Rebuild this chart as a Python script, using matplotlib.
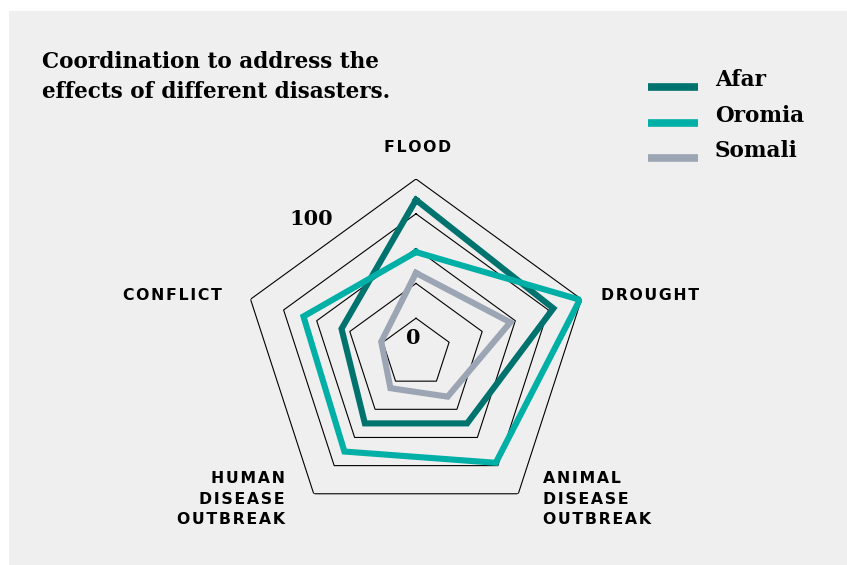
import numpy as np
import matplotlib
matplotlib.use("Agg")
from matplotlib import pyplot as plt
from matplotlib.patches import Rectangle
from matplotlib.lines import Line2D

# Survey scores per disaster type (0-100)
categories = ["FLOOD", "DROUGHT", "ANIMAL DISEASE OUTBREAK", "HUMAN DISEASE OUTBREAK", "CONFLICT"]
afar = [88, 83, 50, 50, 45]
oromia = [58, 99, 78, 70, 68]
somali = [46, 57, 31, 25, 21]
regions = ["Afar", "Oromia", "Somali"]
colors = ["#00736e", "#00b0a6", "#9ba5b4"]
ring_levels = [20, 40, 60, 80, 100]

W, H = 847, 565
fig = plt.figure(figsize=(W / 100, H / 100), dpi=100)
fig.patch.set_facecolor("white")

# grey panel behind everything
fig.add_artist(Rectangle((9 / W, 0), 1, 1 - 11 / H, transform=fig.transFigure,
                         facecolor="#efefef", edgecolor="none", zorder=0))

# polar axes centred on the chart
cx, cy, R = 416, 353, 174
ax = fig.add_axes([(cx - R) / W, 1 - (cy + R) / H, 2 * R / W, 2 * R / H], projection="polar")
ax.set_facecolor("none")
ax.set_theta_offset(np.pi / 2)
ax.set_theta_direction(-1)
ax.set_ylim(0, 100)
ax.grid(False)
ax.spines["polar"].set_visible(False)
ax.set_xticks([])
ax.set_yticks([])

n = len(categories)
angles = np.linspace(0, 2 * np.pi, n, endpoint=False)
closed = np.append(angles, angles[0])

for lvl in ring_levels:
    ax.plot(closed, [lvl] * (n + 1), color="black", lw=0.8, zorder=1)

for vals, col in zip([afar, oromia, somali], colors):
    v = vals + vals[:1]
    ax.plot(closed, v, color=col, lw=4.4, solid_joinstyle="miter", zorder=3)

# scale labels
serif = "DejaVu Serif"
fig.text(413 / W, 1 - 338 / H, "0", ha="center", va="center", fontsize=15,
         fontweight="bold", family=serif)
fig.text(311 / W, 1 - 219 / H, "100", ha="center", va="center", fontsize=15,
         fontweight="bold", family=serif)


def spaced(s):
    # widen the tracking a little with hair spaces
    return "\n".join("\u200a".join(line) for line in s.split("\n"))


# category labels
lab = dict(fontsize=11.3, fontweight="bold", family="DejaVu Sans", color="black")
fig.text(418 / W, 1 - 147 / H, spaced("FLOOD"), ha="center", va="center", **lab)
fig.text(601 / W, 1 - 296 / H, spaced("DROUGHT"), ha="left", va="center", **lab)
fig.text(222 / W, 1 - 296 / H, spaced("CONFLICT"), ha="right", va="center", **lab)
fig.text(285 / W, 1 - 499 / H, spaced("HUMAN\nDISEASE\nOUTBREAK"), ha="right", va="center",
         linespacing=1.45, multialignment="right", **lab)
fig.text(543 / W, 1 - 499 / H, spaced("ANIMAL\nDISEASE\nOUTBREAK"), ha="left", va="center",
         linespacing=1.45, multialignment="left", **lab)

# title
fig.text(42 / W, 1 - 77 / H, "Coordination to address the\neffects of different disasters.",
         ha="left", va="center", fontsize=15.5, fontweight="bold", family=serif,
         linespacing=1.5)

# legend
legend_y = [87, 123, 158]
for name, col, ly in zip(regions, colors, legend_y):
    fig.add_artist(Line2D([648 / W, 698 / W], [1 - ly / H] * 2, transform=fig.transFigure,
                          color=col, lw=5.5, solid_capstyle="butt"))
    fig.text(715 / W, 1 - (ly - 7) / H, name, ha="left", va="center", fontsize=15.5,
             fontweight="bold", family=serif)

fig.savefig("out.png", dpi=100, facecolor=fig.get_facecolor())
